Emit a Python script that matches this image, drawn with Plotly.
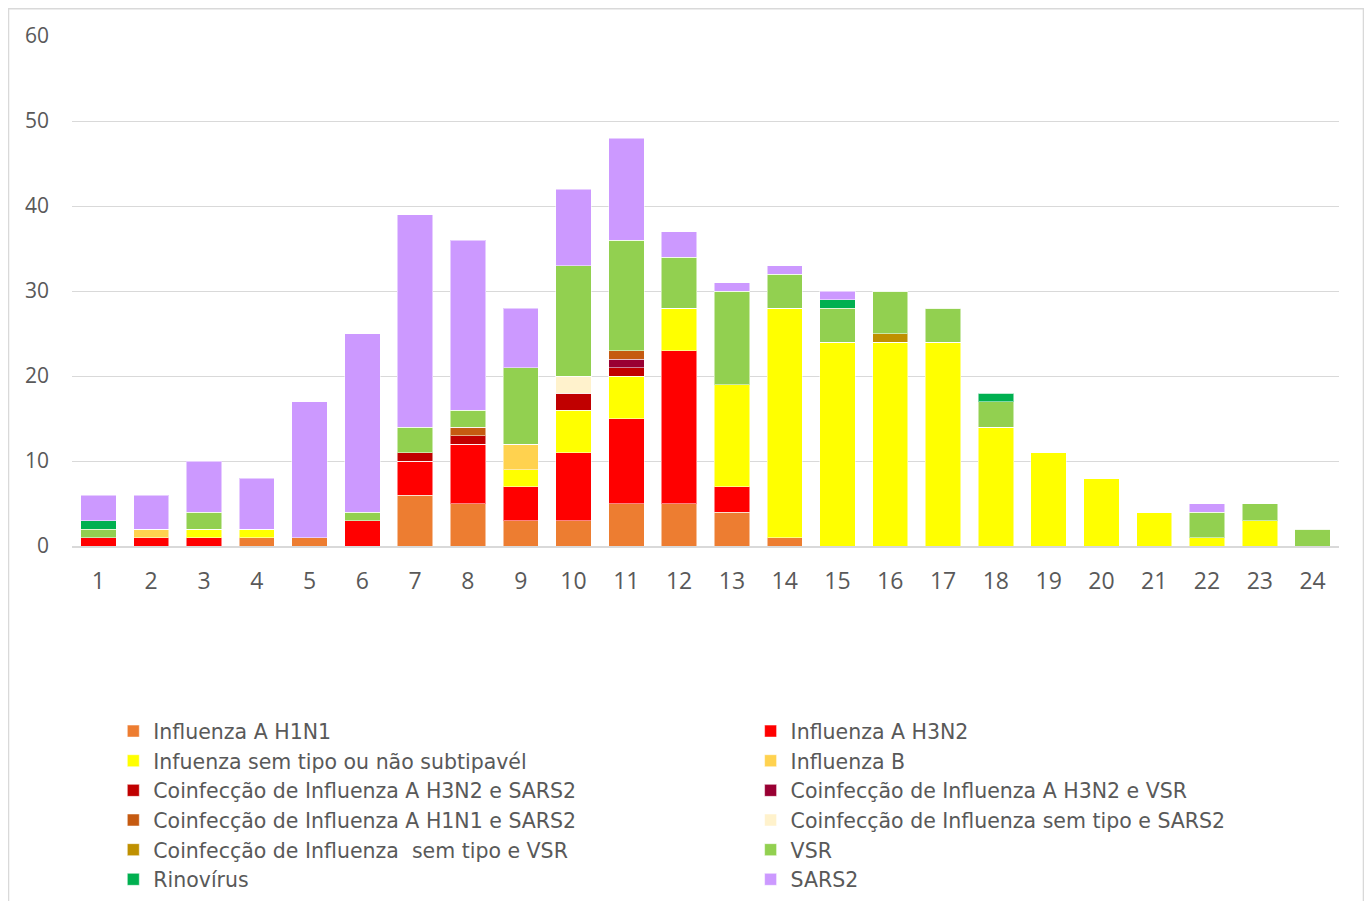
import plotly.graph_objects as go

# epidemiological weeks
weeks = [str(w) for w in range(1, 25)]

h1n1 = [0, 0, 0, 1, 1, 0, 6, 5, 3, 3, 5, 5, 4, 1, 0, 0, 0, 0, 0, 0, 0, 0, 0, 0]
h3n2 = [1, 1, 1, 0, 0, 3, 4, 7, 4, 8, 10, 18, 3, 0, 0, 0, 0, 0, 0, 0, 0, 0, 0, 0]
sem_tipo = [0, 0, 1, 1, 0, 0, 0, 0, 2, 5, 5, 5, 12, 27, 24, 24, 24, 14, 11, 8, 4, 1, 3, 0]
flu_b = [0, 1, 0, 0, 0, 0, 0, 0, 3, 0, 0, 0, 0, 0, 0, 0, 0, 0, 0, 0, 0, 0, 0, 0]
co_h3n2_sars2 = [0, 0, 0, 0, 0, 0, 1, 1, 0, 2, 1, 0, 0, 0, 0, 0, 0, 0, 0, 0, 0, 0, 0, 0]
co_h3n2_vsr = [0, 0, 0, 0, 0, 0, 0, 0, 0, 0, 1, 0, 0, 0, 0, 0, 0, 0, 0, 0, 0, 0, 0, 0]
co_h1n1_sars2 = [0, 0, 0, 0, 0, 0, 0, 1, 0, 0, 1, 0, 0, 0, 0, 0, 0, 0, 0, 0, 0, 0, 0, 0]
co_semtipo_sars2 = [0, 0, 0, 0, 0, 0, 0, 0, 0, 2, 0, 0, 0, 0, 0, 0, 0, 0, 0, 0, 0, 0, 0, 0]
co_semtipo_vsr = [0, 0, 0, 0, 0, 0, 0, 0, 0, 0, 0, 0, 0, 0, 0, 1, 0, 0, 0, 0, 0, 0, 0, 0]
vsr = [1, 0, 2, 0, 0, 1, 3, 2, 9, 13, 13, 6, 11, 4, 4, 5, 4, 3, 0, 0, 0, 3, 2, 2]
rinovirus = [1, 0, 0, 0, 0, 0, 0, 0, 0, 0, 0, 0, 0, 0, 1, 0, 0, 1, 0, 0, 0, 0, 0, 0]
sars2 = [3, 4, 6, 6, 16, 21, 25, 20, 7, 9, 12, 3, 1, 1, 1, 0, 0, 0, 0, 0, 0, 1, 0, 0]

series = [
    ("Influenza A H1N1", h1n1, "#ED7D31"),
    ("Influenza A H3N2", h3n2, "#FF0000"),
    ("Infuenza sem tipo ou não subtipavél", sem_tipo, "#FFFF00"),
    ("Influenza B", flu_b, "#FFD24F"),
    ("Coinfecção de Influenza A H3N2 e SARS2", co_h3n2_sars2, "#C00000"),
    ("Coinfecção de Influenza A H3N2 e VSR", co_h3n2_vsr, "#990033"),
    ("Coinfecção de Influenza A H1N1 e SARS2", co_h1n1_sars2, "#C55A11"),
    ("Coinfecção de Influenza sem tipo e SARS2", co_semtipo_sars2, "#FFF2CC"),
    ("Coinfecção de Influenza  sem tipo e VSR", co_semtipo_vsr, "#BF9000"),
    ("VSR", vsr, "#92D050"),
    ("Rinovírus", rinovirus, "#00B050"),
    ("SARS2", sars2, "#CC99FF"),
]

TEXT = "#595959"
GRID = "#D9D9D9"
FONT = "Open Sans"
LEGEND_FONT = "DejaVu Sans"

fig = go.Figure()
for i, (name, vals, color) in enumerate(series):
    fig.add_bar(
        x=weeks,
        y=vals,
        name=name.replace("  ", "&nbsp; "),
        marker={"color": color, "line": {"color": "rgba(255,255,255,0.5)", "width": 1}},
        # left column of the legend gets the even entries, right column the odd ones
        legend="legend" if i % 2 == 0 else "legend2",
        hovertemplate="%{x}: %{y}<extra>" + name + "</extra>",
    )

legend_style = dict(
    orientation="v",
    traceorder="normal",
    yanchor="top",
    xanchor="left",
    y=-0.324,
    font={"family": LEGEND_FONT, "size": 20.5, "color": TEXT},
    bgcolor="rgba(0,0,0,0)",
    tracegroupgap=0,
)

fig.update_layout(
    barmode="stack",
    bargap=0.33,
    width=1356,
    height=893,
    margin={"l": 64, "r": 25, "t": 28, "b": 355, "autoexpand": False},
    plot_bgcolor="white",
    paper_bgcolor="white",
    font={"family": FONT, "color": TEXT},
    legend={**legend_style, "x": 0.0326},
    legend2={**legend_style, "x": 0.5356},
    shapes=[
        # thin frame round the chart area, as in the original
        dict(type="rect", xref="paper", yref="paper",
             x0=-0.0501, x1=1.0193, y0=-0.75, y1=1.0535,
             line={"color": GRID, "width": 1.5}, layer="below"),
    ],
)

fig.update_xaxes(
    type="category",
    showgrid=False,
    showline=True,
    linecolor=GRID,
    linewidth=1.5,
    ticks="",
    tickfont={"family": FONT, "size": 23, "color": TEXT},
    ticklabelstandoff=14,
)
fig.update_yaxes(
    range=[0, 60],
    dtick=10,
    showgrid=True,
    gridcolor=GRID,
    gridwidth=1,
    zeroline=False,
    showline=False,
    ticks="",
    tickfont={"family": FONT, "size": 21, "color": TEXT},
    ticklabelstandoff=22,
)

fig.write_html("out.html")
